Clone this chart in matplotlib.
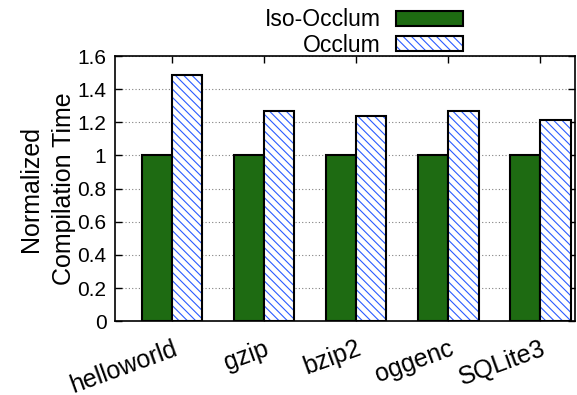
import numpy as np
import matplotlib.pyplot as plt
from matplotlib.patches import Patch
from matplotlib.legend_handler import HandlerTuple

plt.rcParams['font.family'] = ['Liberation Sans', 'DejaVu Sans']
plt.rcParams['hatch.linewidth'] = 0.8

benchmarks = ["helloworld", "gzip", "bzip2", "oggenc", "SQLite3"]
iso_occlum = [1.0, 1.0, 1.0, 1.0, 1.0]
occlum = [1.485, 1.27, 1.24, 1.27, 1.215]

fig = plt.figure(figsize=(5.77, 3.95), dpi=100)
ax = fig.add_axes([0.199, 0.187, 0.798, 0.671])

x = np.arange(len(benchmarks))
w = 0.33
ax.bar(x - w / 2, iso_occlum, w, color='#1e6b12', edgecolor='black', linewidth=1.5)
# hatch in blue, then black outline on top
ax.bar(x + w / 2, occlum, w, color='white', edgecolor='#2a5cff', linewidth=0, hatch='\\\\\\\\')
ax.bar(x + w / 2, occlum, w, fill=False, edgecolor='black', linewidth=1.5)

ax.set_xlim(-0.62, 4.38)
ax.set_ylim(0, 1.6)
ax.set_yticks(np.arange(0, 1.61, 0.2))
ax.set_yticklabels(["0", "0.2", "0.4", "0.6", "0.8", "1", "1.2", "1.4", "1.6"], fontsize=15)
ax.set_xticks(x)
ax.set_xticklabels(benchmarks, fontsize=18, rotation=20, ha='right', rotation_mode='anchor')
ax.tick_params(axis='both', direction='in', top=True, right=True, length=5, width=1)
ax.tick_params(axis='x', pad=11)
ax.tick_params(axis='y', pad=6)
ax.yaxis.grid(True, color='gray', linestyle=(0, (1, 2)), linewidth=0.8)
ax.set_axisbelow(True)
for s in ax.spines.values():
    s.set_linewidth(1.2)
ax.set_ylabel("Normalized\nCompilation Time", fontsize=18, linespacing=1.45, labelpad=1)

h_iso = Patch(facecolor='#1e6b12', edgecolor='black', linewidth=1.5)
h_hatch = Patch(facecolor='white', edgecolor='#2a5cff', hatch='\\\\\\\\', linewidth=0)
h_box = Patch(fill=False, edgecolor='black', linewidth=1.5)
leg = ax.legend([h_iso, (h_hatch, h_box)], ['Iso-Occlum', 'Occlum'],
                handler_map={tuple: HandlerTuple(ndivide=1, pad=0)},
                loc='lower right', bbox_to_anchor=(0.757, 0.998),
                frameon=False, fontsize=16.5, markerfirst=False, handlelength=2.95, handleheight=0.6,
                labelspacing=0.1, borderaxespad=0, borderpad=0, handletextpad=0.65)

fig.savefig("out.png", dpi=100)
